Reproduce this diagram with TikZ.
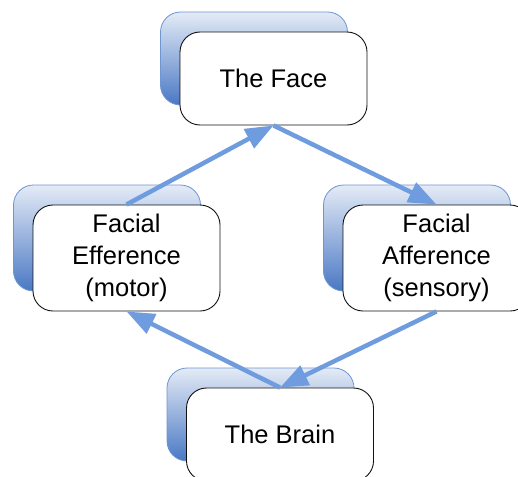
\documentclass[tikz,border=0pt]{standalone}
\usepackage{fontspec}
\setmainfont{Liberation Sans}
\usetikzlibrary{positioning,arrows.meta}
\definecolor{ink}{HTML}{111111}
\definecolor{rim}{HTML}{6F95D2}
\definecolor{shadetop}{HTML}{E4EBF6}
\definecolor{shadebot}{HTML}{4A78C4}
\definecolor{flowblue}{HTML}{6F9CDE}
\tikzset{
  card/.style={rounded corners=20pt, draw=ink, fill=white, line width=0.9pt,
    minimum width=187pt, minimum height=#1, align=center, inner sep=0pt,
    font=\fontsize{25.5}{32}\selectfont, text=black},
  card/.default=93pt,
  under/.style={rounded corners=20pt, draw=rim, line width=0.8pt,
    top color=shadetop, bottom color=shadebot,
    minimum width=187pt, minimum height=#1, inner sep=0pt},
  under/.default=93pt,
  link/.style={-{Triangle[length=28pt,width=21pt]}, line width=4.5pt, color=flowblue},
}
\begin{document}
\begin{tikzpicture}[x=1pt,y=1pt]
  \path[use as bounding box,clip] (0,0) rectangle (518,-476);
  % shaded backs
  \node[under] (faceback) at (254,-58.5) {};
  \node[under=106pt] (effback) at (107,-238) {};
  \node[under=106pt] (affback) at (417,-238) {};
  \node[under] (brainback) at (260.5,-414.5) {};
  % front cards
  \node[card] (face) at (273.5,-78.5) {The Face};
  \node[card=106pt] (eff) at (126.5,-258) {Facial\\Efference\\(motor)};
  \node[card=106pt] (aff) at (436.5,-258) {Facial\\Afference\\(sensory)};
  \node[card] (brain) at (280,-434.5) {The Brain};
  % loop
  \draw[link] (eff.north) -- (face.south);
  \draw[link] (face.south) -- (aff.north);
  \draw[link] (aff.south) -- (brain.north);
  \draw[link] (brain.north) -- (eff.south);
\end{tikzpicture}
\end{document}
